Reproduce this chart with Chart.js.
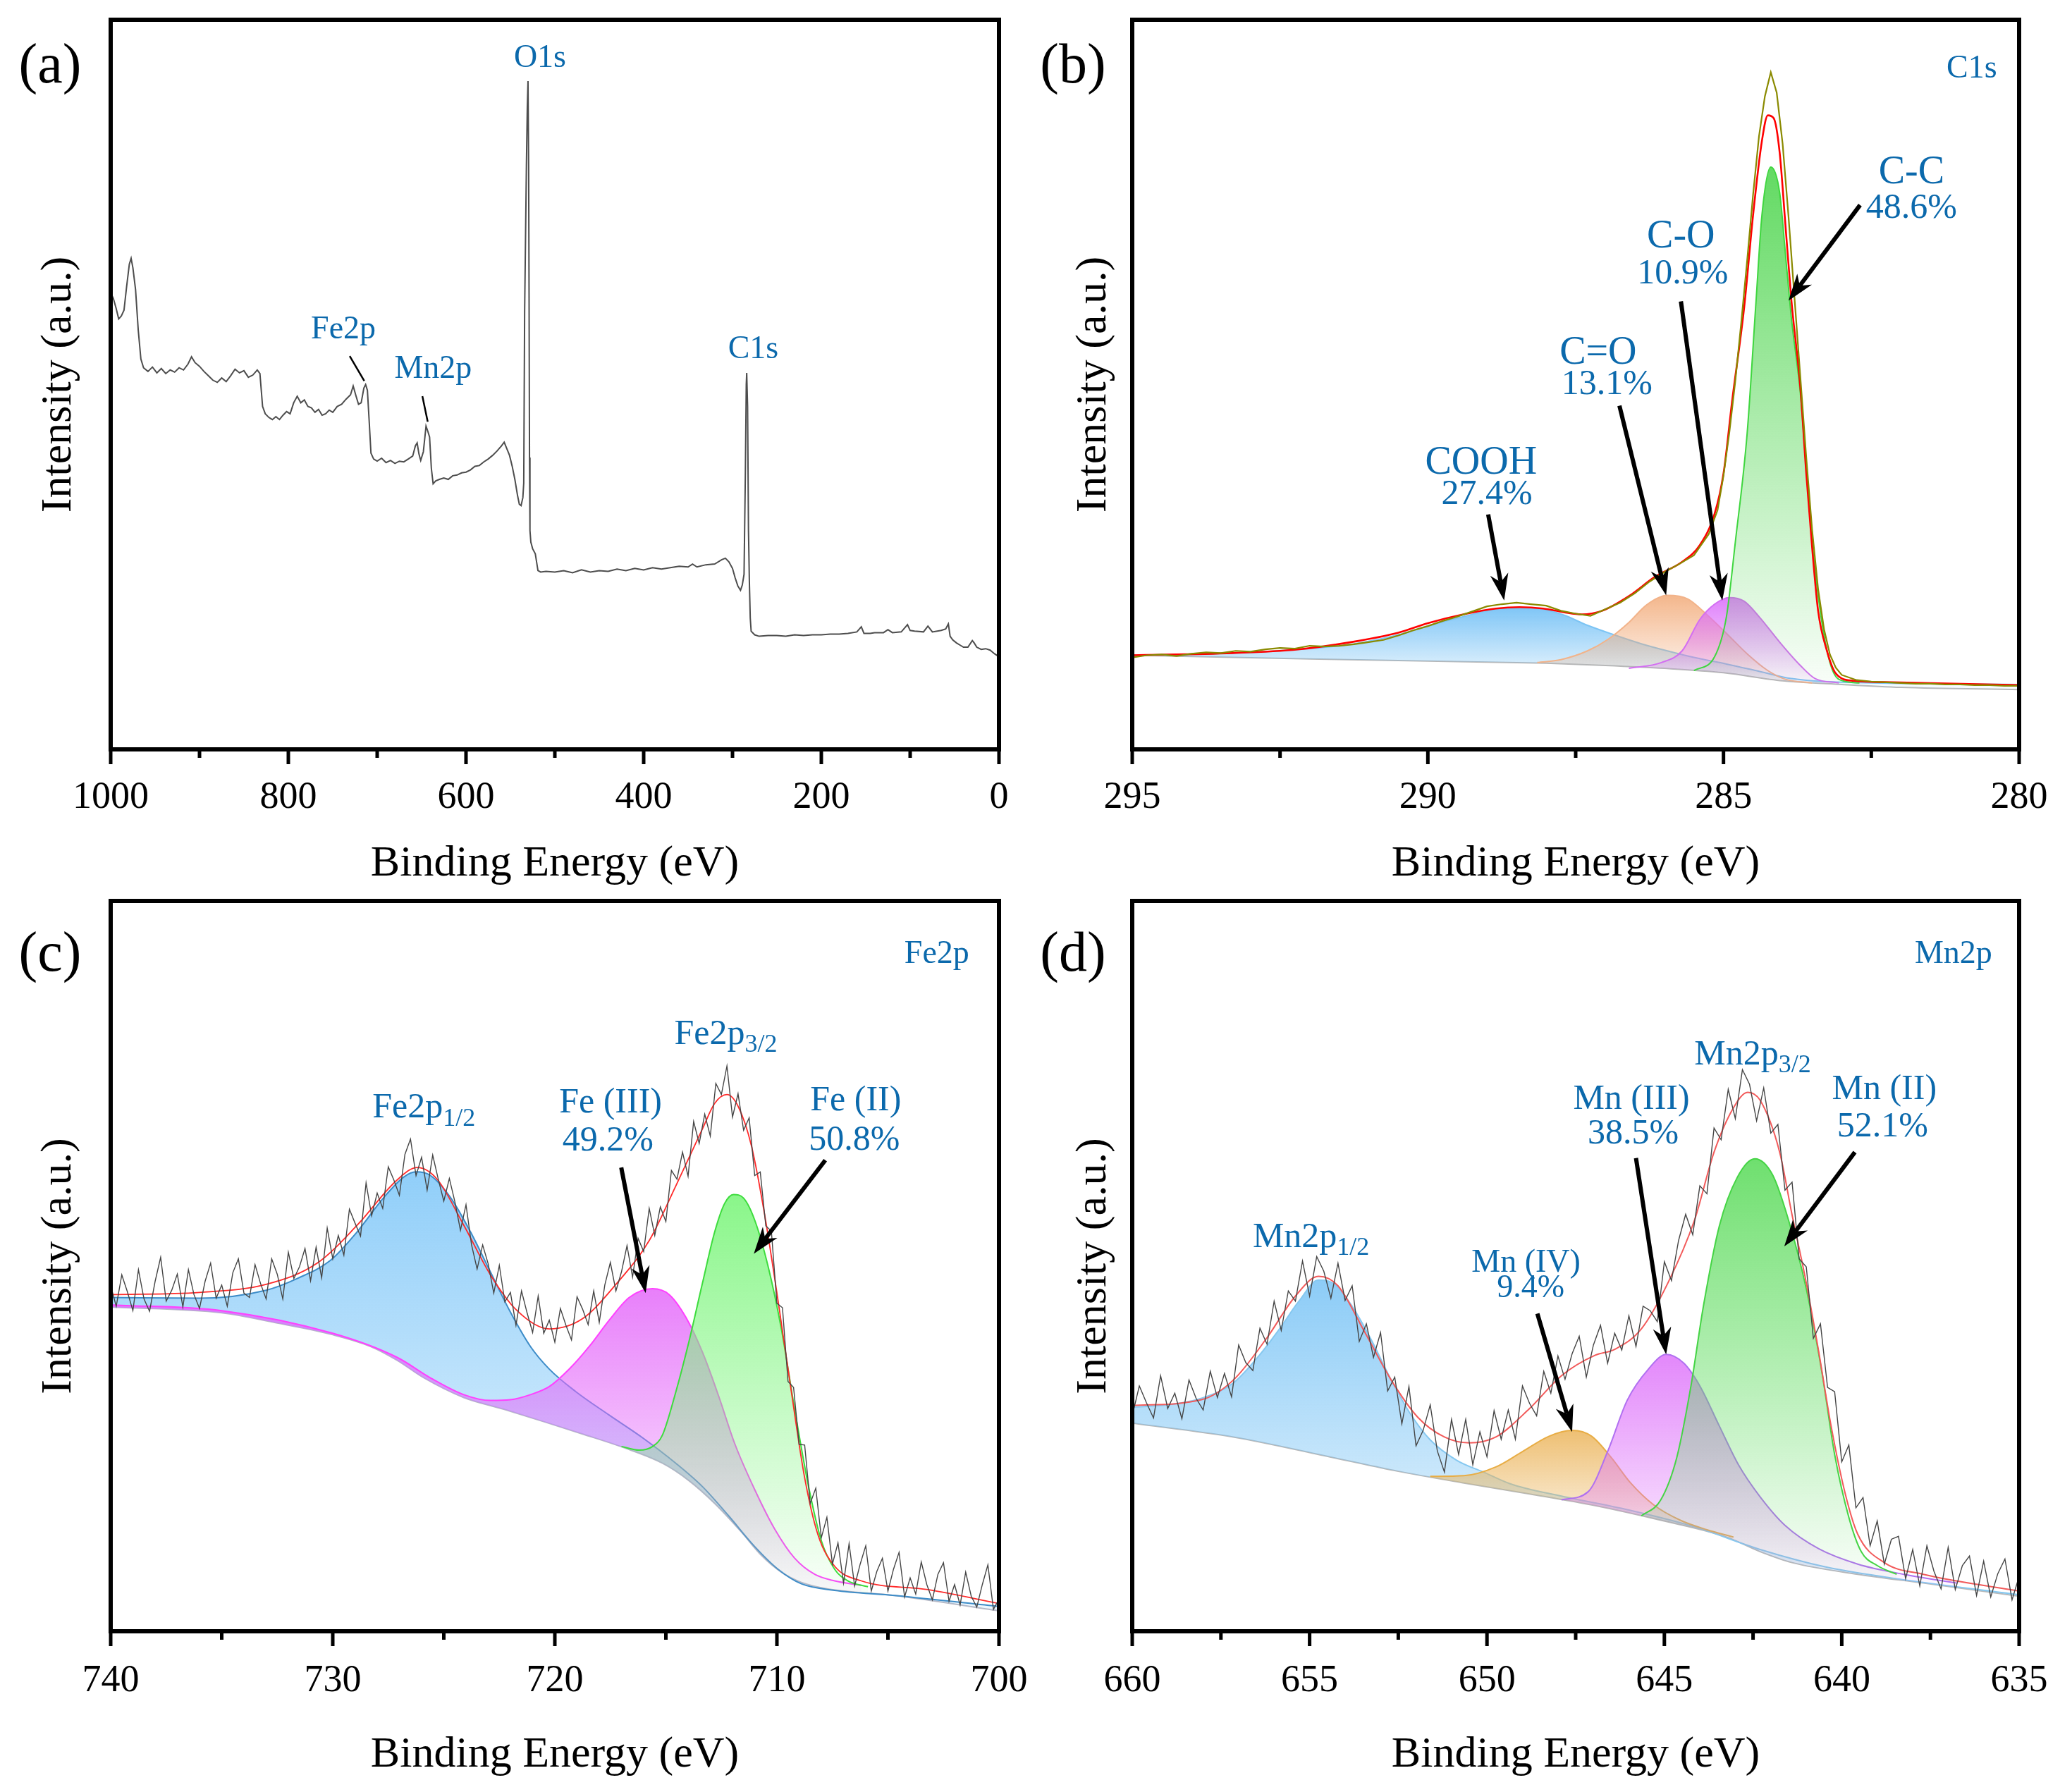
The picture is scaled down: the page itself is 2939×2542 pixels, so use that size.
<!DOCTYPE html>
<html>
<head>
<meta charset="utf-8">
<script src="https://cdn.jsdelivr.net/npm/chart.js@4.4.1/dist/chart.umd.min.js"></script>
<style>
  html, body { margin: 0; padding: 0; background: #fff; }
  body { width: 2939px; height: 2542px; position: relative; overflow: hidden; font-family: "Liberation Serif", serif; }
  canvas { position: absolute; }
  .tag { position: absolute; font-size: 80px; line-height: 1; color: #000; transform: translate(-50%, -50%); }
</style>
</head>
<body>
<canvas id="pa" width="1470" height="1270" style="left:0;top:0"></canvas>
<canvas id="pb" width="1469" height="1270" style="left:1470px;top:0"></canvas>
<canvas id="pc" width="1470" height="1272" style="left:0;top:1270px"></canvas>
<canvas id="pd" width="1469" height="1272" style="left:1470px;top:1270px"></canvas>
<div class="tag" style="left:71px;top:90px">(a)</div>
<div class="tag" style="left:1522px;top:90px">(b)</div>
<div class="tag" style="left:71px;top:1350px">(c)</div>
<div class="tag" style="left:1522px;top:1350px">(d)</div>
<script>
/* ---------- (a) survey spectrum ---------- */
const surveyEnergy = [1000,997,994,991,988,985,982,979,977,975,972,969,966,963,958,953,948,943,938,933,928,923,918,913,909,905,900,895,890,885,880,875,870,865,860,855,850,845,840,835,832,829,826,822,818,814,810,806,802,798,794,790,786,782,778,774,770,766,762,758,754,750,745,740,735,730,727,724,721,718,715,713,711,709,707,704,700,695,690,685,680,675,670,665,660,657,655,653,651,648,645,643,641,639,637,634,630,625,620,615,610,605,600,595,590,585,580,575,570,565,560,557,554,551,548,545,542,540,538,536,535,534,533,532,531,530.2,529.5,529,528.5,528,527,525,522,519,516,510,500,490,480,470,460,450,440,430,420,410,400,390,380,370,360,350,345,340,330,320,312,308,304,300,297,294,291,289,287,285.5,284.5,284,283,282,281,280,279,275,270,260,250,240,230,220,210,200,190,180,170,160,155,152,145,140,130,125,120,110,103,100,95,85,80,75,65,60,57,55,52,48,44,40,35,30,28,25,20,15,10,5,0];
const surveyIntensity = [62.6,61.8,60.5,59.0,59.4,60.2,63.5,66.5,67.3,66.0,63.0,57.5,53.5,52.3,51.8,52.4,51.6,52.2,51.5,52.0,51.7,52.3,52.0,52.8,53.8,53.0,52.5,51.8,51.2,50.6,50.3,50.9,50.4,51.2,52.1,51.6,51.9,51.0,51.3,52.0,51.5,47.0,46.0,45.5,45.2,45.6,45.2,45.8,46.3,46.0,47.5,48.4,47.5,47.9,47.0,46.8,46.2,46.6,45.8,46.0,46.5,46.2,47.0,47.3,48.0,48.6,49.8,48.5,47.3,47.5,49.5,50.0,49.2,45.0,40.6,39.8,39.5,39.9,39.3,39.6,39.2,39.5,39.4,39.8,40.2,41.6,42.0,40.5,39.6,40.8,44.3,43.6,42.8,38.5,36.4,36.8,37.0,37.2,37.0,37.5,37.6,37.9,38.0,38.3,38.8,38.9,39.4,39.8,40.3,40.9,41.6,42.1,41.2,40.3,38.8,37.0,34.8,33.6,33.4,34.5,36.5,60.0,70.0,80.0,88.0,91.6,80.0,62.0,40.0,30.0,28.4,27.5,26.8,24.5,24.3,24.4,24.3,24.5,24.2,24.6,24.3,24.5,24.4,24.7,24.5,24.8,24.6,24.9,24.7,24.9,25.1,25.0,25.4,25.0,25.3,25.4,26.0,26.2,25.7,24.8,23.5,22.4,21.8,22.5,24.0,38.0,50.0,51.6,47.0,30.0,23.0,18.0,16.2,15.7,15.5,15.6,15.6,15.5,15.7,15.6,15.7,15.7,15.8,15.8,15.9,16.1,16.8,15.9,15.9,16.0,16.0,16.4,16.0,16.1,17.1,16.3,16.2,16.1,16.9,16.1,16.3,16.5,17.2,15.5,15.0,14.6,14.3,14.0,14.0,14.9,14.6,14.0,13.7,13.8,13.6,13.1,12.7];
const surveyTicks = [1000, 800, 600, 400, 200, 0];
const surveyMinor = [900, 700, 500, 300, 100];

/* ---------- (b) C1s ---------- */
const c1sEnergy = [295,294.75,294.5,294.25,294,293.75,293.5,293.25,293,292.75,292.5,292.25,292,291.75,291.5,291.25,291,290.75,290.5,290.25,290,289.75,289.5,289.25,289,288.75,288.5,288.25,288,287.75,287.5,287.25,287,286.75,286.5,286.25,286,285.75,285.5,285.25,285.1,285,284.9,284.8,284.7,284.6,284.5,284.4,284.3,284.2,284.1,284,283.9,283.8,283.7,283.6,283.5,283.4,283.3,283.2,283.1,283,282.75,282.5,282.25,282,281.75,281.5,281.25,281,280.75,280.5,280.25,280];
const c1sRaw = [12.6,12.9,13.0,12.8,13.1,13.3,13.2,13.5,13.4,13.7,13.9,13.8,14.2,14.1,14.2,14.4,14.7,15.0,15.6,16.3,16.9,17.6,18.2,18.9,19.6,19.9,20.1,19.9,19.7,19.0,18.6,18.3,19.2,20.1,21.4,23.0,24.3,25.4,26.6,29.5,32.8,37.5,43.5,50.5,58.5,67,76,84,89.5,92.8,90,83,73,62,51,40,30,22,16.5,13,11.2,10.2,9.5,9.3,9.2,9.1,9.0,9.0,8.9,8.9,8.8,8.8,8.7,8.7];
const c1sFitE = [295,293.3,292.2,291.3,290.5,290,289.4,288.85,288.45,288.05,287.7,287.4,287.05,286.6,286.15,285.7,285.4,285.15,285,284.85,284.65,284.5,284.35,284.25,284.15,284.05,283.95,283.85,283.7,283.6,283.5,283.4,283.25,283.1,282.8,282.15,280];
const c1sFit = [12.9,13.2,13.7,14.7,16.0,17.3,18.5,19.3,19.5,19.3,18.8,18.5,19.0,21.0,23.7,25.7,28.0,32.3,37.8,48.0,60.6,73.2,83.4,86.9,86.5,81.8,71.6,61.4,49.6,37.8,27.6,19.0,13.5,10.4,9.4,9.2,8.8];
const ccE = [285.5,285.15,284.95,284.8,284.6,284.45,284.35,284.2,284.05,283.95,283.85,283.7,283.6,283.5,283.35,283.2,283.05,282.7];
const ccI = [10.8,12.7,18.2,28.4,43.3,61.4,73.2,79.8,76.3,67.7,59.0,48.8,38.6,28.4,18.2,11.9,9.6,9.1];
const coE = [286.6,286.05,285.7,285.4,285.15,284.9,284.65,284.4,284.05,283.7,283.45,283.05];
const coI = [11.1,11.9,13.5,17.8,19.9,20.8,20.3,18.2,14.7,11.5,9.7,9.1];
const c2oE = [288.15,287.75,287.3,286.95,286.6,286.3,285.95,285.6,285.3,284.95,284.6,284.25,283.95,283.5];
const c2oI = [11.9,12.3,13.5,15.1,17.4,19.8,21.1,20.6,18.6,15.9,13.1,10.8,9.6,9.1];
const coohE = [295,293.3,292.2,291.3,290.5,290,289.4,288.85,288.45,288.05,287.7,287.3,286.85,286.4,285.95,285.5,284.95,284.4,283.85,283.3,280];
const coohI = [12.9,13.2,13.7,14.4,15.7,16.9,18.2,19.2,19.4,19.2,18.4,17.0,15.7,14.5,13.5,12.6,11.7,10.7,9.7,9.3,8.9];
const c1sBgE = [295,292,290,288,287,286,285,284,283,282,280];
const c1sBg = [12.9,12.4,12.1,11.8,11.5,11.1,10.5,9.4,8.9,8.5,8.2];
const c1sTicks = [295, 290, 285, 280];
const c1sMinor = [292.5, 287.5, 282.5];

/* ---------- (c) Fe2p ---------- */
const fe2pEnergy = [740,739.75,739.5,739.25,739,738.75,738.5,738.25,738,737.75,
  737.5,737.25,737,736.75,736.5,736.25,736,735.75,735.5,735.25,
  735,734.75,734.5,734.25,734,733.75,733.5,733.25,733,732.75,
  732.5,732.25,732,731.75,731.5,731.25,731,730.75,730.5,730.25,
  730,729.75,729.5,729.25,729,728.75,728.5,728.25,728,727.75,
  727.5,727.25,727,726.75,726.5,726.25,726,725.75,725.5,725.25,
  725,724.75,724.5,724.25,724,723.75,723.5,723.25,723,722.75,
  722.5,722.25,722,721.75,721.5,721.25,721,720.75,720.5,720.25,
  720,719.75,719.5,719.25,719,718.75,718.5,718.25,718,717.75,
  717.5,717.25,717,716.75,716.5,716.25,716,715.75,715.5,715.25,
  715,714.75,714.5,714.25,714,713.75,713.5,713.25,713,712.75,
  712.5,712.25,712,711.75,711.5,711.25,711,710.75,710.5,710.25,
  710,709.75,709.5,709.25,709,708.75,708.5,708.25,708,707.75,
  707.5,707.25,707,706.75,706.5,706.25,706,705.75,705.5,705.25,
  705,704.75,704.5,704.25,704,703.75,703.5,703.25,703,702.75,
  702.5,702.25,702,701.75,701.5,701.25,701,700.75,700.5,700.25,
  700];
const fe2pRaw = [47.3,44.5,48.8,46.5,43.9,49.5,45.5,43.8,47.9,51.2,
  45.2,46.7,48.9,44.4,49.5,46.1,44.2,47.9,50.4,45.6,
  47.4,44.5,49.1,51.0,46.3,45.7,50.2,47.6,45.5,51.0,
  48.9,45.5,51.9,48.3,49.9,52.4,48.0,52.6,48.4,55.2,
  51.0,54.2,51.5,57.8,55.9,54.1,61.4,56.9,60.0,57.9,
  63.6,61.8,59.7,65.3,67.4,62.4,64.9,60.4,65.2,61.9,
  58.9,62.0,58.8,54.9,58.4,52.9,49.6,52.9,50.3,46.3,
  50.1,45.1,46.4,41.9,46.6,43.6,40.9,45.9,40.8,42.6,
  39.6,44.2,41.9,39.9,45.8,44.1,42.0,46.6,42.3,47.4,
  50.5,46.6,49.2,52.8,48.5,53.8,52.0,57.9,54.2,58.1,
  56.1,63.1,61.9,65.6,62.3,69.8,66.8,70.8,67.8,75.0,
  73.5,77.4,70.4,73.6,68.6,70.3,62.4,62.9,55.5,54.8,
  44.9,44.3,34.2,33.4,25.6,25.5,17.5,19.6,12.8,15.6,
  9.2,12.1,6.6,12.0,6.2,9.2,11.7,5.5,8.2,10.0,
  5.5,8.5,10.8,4.7,7.3,5.1,9.5,6.4,4.3,7.8,
  9.4,4.1,6.4,3.6,8.1,4.8,3.3,6.4,9.1,3.0,
  4.4];
const fe2pFitE = [740,736,733,730.7,728.9,727.1,726.2,725.3,724.1,722.9,721.7,720.25,718.75,717.25,715.75,714.55,713.35,712.8,712.25,711.75,711.15,710.55,709.95,709.35,708.75,708.15,707.4,706.2,703.2,700];
const fe2pFit = [46.1,46.4,47.5,50.4,55.6,61.8,63.5,61.9,55.6,48.8,43.9,41.4,42.8,47.5,53.5,61.0,68.8,72.3,73.5,71.9,66.5,57.0,45.3,32.8,21.0,13.2,8.9,6.9,5.7,3.8];
const fe12E = [740,736,733,731.6,730.1,728.9,727.7,726.8,726.25,725.6,724.7,723.8,722.9,722,721.1,720.25,719.05,717.55,716.05,714.55,713.35,712.2,711,709.95,708.9,707.4,704.7,700];
const fe12I = [45.7,45.6,46.7,48.3,50.8,54.7,59.4,62.2,62.9,62.4,59.4,54.7,49.2,43.7,39.0,35.9,32.8,29.6,26.5,23.0,19.8,15.9,11.6,8.5,6.5,5.6,4.9,3.4];
const fe3E = [740,735,730,727.1,725.6,724.1,722.9,722,721.1,720.25,719.35,718.45,717.55,716.65,715.6,714.85,714.1,713.35,712.6,711.9,711,710.1,709.2,708.3,707.4,706.2];
const fe3I = [44.7,43.9,40.8,37.5,34.7,32.4,31.6,31.7,32.4,33.5,35.9,39.0,42.6,45.7,46.9,46.1,43.0,38.2,32.0,25.7,19.4,14.0,10.0,7.8,6.9,6.3];
const fe2E = [717,716.2,715.6,715.15,714.55,713.95,713.35,712.8,712.35,711.95,711.5,711,710.4,709.8,709.2,708.6,708,707.4,706.8,705.9];
const fe2I = [25.3,24.8,25.3,26.9,32.8,39.8,47.7,54.7,58.6,59.8,59.3,56.3,50.0,41.4,30.4,20.2,12.4,8.5,6.9,6.1];
const fe2pBgE = [740,735,732.5,730,728.3,727.1,725.9,724.1,722.3,720.5,718.75,716.95,715.15,713.95,712.8,711.6,710.7,709.8,708.9,707.7,704.7,700];
const fe2pBg = [44.4,43.6,42.2,40.6,39.0,37.1,34.7,32.0,30.4,28.7,27.0,25.2,23.0,20.6,17.5,13.6,10.4,8.1,6.7,5.8,4.9,2.8];
const fe2pTicks = [740, 730, 720, 710, 700];
const fe2pMinor = [735, 725, 715, 705];

/* ---------- (d) Mn2p ---------- */
const mn2pEnergy = [660,659.8,659.6,659.4,659.2,659,658.8,658.6,658.4,658.2,
  658,657.8,657.6,657.4,657.2,657,656.8,656.6,656.4,656.2,
  656,655.8,655.6,655.4,655.2,655,654.8,654.6,654.4,654.2,
  654,653.8,653.6,653.4,653.2,653,652.8,652.6,652.4,652.2,
  652,651.8,651.6,651.4,651.2,651,650.8,650.6,650.4,650.2,
  650,649.8,649.6,649.4,649.2,649,648.8,648.6,648.4,648.2,
  648,647.8,647.6,647.4,647.2,647,646.8,646.6,646.4,646.2,
  646,645.8,645.6,645.4,645.2,645,644.8,644.6,644.4,644.2,
  644,643.8,643.6,643.4,643.2,643,642.8,642.6,642.4,642.2,
  642,641.8,641.6,641.4,641.2,641,640.8,640.6,640.4,640.2,
  640,639.8,639.6,639.4,639.2,639,638.8,638.6,638.4,638.2,
  638,637.8,637.6,637.4,637.2,637,636.8,636.6,636.4,636.2,
  636,635.8,635.6,635.4,635.2,635];
const mn2pRaw = [29.5,33.6,31.3,29.2,35.0,30.5,32.6,29.1,34.4,31.9,
  30.3,35.6,32.0,35.3,32.1,39.2,36.8,35.7,41.5,39.3,
  45.2,41.2,46.6,45.2,50.7,45.9,51.3,49.3,45.6,50.4,
  45.3,47.3,39.7,42.1,37.5,40.9,32.9,34.8,28.4,33.5,
  25.4,27.5,31.0,24.7,21.8,29.0,24.2,29.0,22.8,27.3,
  23.9,30.2,26.3,30.3,26.3,33.6,31.2,29.5,35.6,32.6,
  37.7,34.5,38.0,40.4,34.8,39.2,41.9,36.7,40.8,38.5,
  43.2,39.0,44.5,43.9,42.4,50.6,48.0,53.5,57.1,54.3,
  61.0,59.9,68.9,67.3,74.2,70.2,76.9,74.9,69.9,74.4,
  68.2,69.4,60.4,61.5,51.0,49.9,40.1,42.1,33.4,32.8,
  23.2,25.5,16.9,18.3,11.7,15.1,9.2,12.6,13.0,7.2,
  11.2,6.2,11.7,8.2,5.8,11.5,5.7,9.0,10.3,4.9,
  9.6,4.7,7.9,9.9,4.3,7.5];
const mn2pFitE = [660,658.05,657.15,656.2,655.4,654.75,654.2,653.45,652.7,651.95,651.2,650.5,649.75,648.8,647.9,646.95,646.4,645.65,644.9,644.15,643.6,643.05,642.65,642.3,641.75,641.4,641,640.65,640.3,639.9,639.55,638.8,637.7,635];
const mn2pFit = [30.9,31.7,34.4,40.2,45.9,48.6,47.3,41.0,34.4,29.3,26.6,25.8,26.6,30.5,35.0,37.8,38.6,41.4,47.7,56.3,65.6,71.7,73.8,72.7,65.6,57.0,47.7,38.3,28.1,18.8,13.3,9.4,7.8,5.5];
const mn12E = [660,659,658.05,657.15,656.4,655.85,655.3,654.75,654.35,653.8,653.25,652.7,652.15,651.6,650.85,650.1,649.35,647.9,646,644.15,642.3,640.45,638.6,635];
const mn12I = [30.7,31.0,31.9,34.0,37.9,41.4,45.2,48.1,47.7,44.5,39.8,34.4,29.7,26.2,23.4,21.8,20.2,18.5,16.6,14.3,11.2,8.8,7.3,5.0];
const mn4E = [651.6,650.65,649.75,649,648.25,647.6,647.05,646.5,645.95,645.3,644.55,643.8,643.05];
const mn4I = [21.2,21.3,22.5,24.6,26.7,27.5,26.7,23.8,20.3,17.3,15.2,13.9,12.9];
const mn3E = [647.9,647.15,646.6,646.05,645.45,644.95,644.45,644,643.45,642.9,642.3,641.6,640.65,639.55,638.25,636.75];
const mn3I = [18.0,19.1,24.6,31.6,35.9,37.9,36.7,33.6,28.1,22.7,18.4,14.5,11.3,9.2,7.8,6.6];
const mn2E = [645.65,645.1,644.65,644.25,643.9,643.45,642.95,642.45,641.95,641.5,641,640.55,640.2,639.8,639.45,639,638.45];
const mn2I = [15.8,18.0,23.8,33.6,44.5,55.5,62.1,64.7,62.5,56.3,46.9,35.2,24.2,15.6,10.9,9.0,7.8];
const mn2pBgE = [660,657.15,654.35,652.5,650.65,648.8,646.95,645.1,643.25,642.3,641.4,639.55,637.7,635];
const mn2pBg = [28.5,26.6,23.8,21.9,20.3,18.8,17.2,15.2,12.9,10.9,9.4,7.8,6.6,4.8];
const mn2pTicks = [660, 655, 650, 645, 640, 635];
const mn2pMinor = [657.5, 652.5, 647.5, 642.5, 637.5];

/* ---------- annotations (data coordinates) ---------- */
const extras = {
  pa: {
    major: surveyTicks, minor: surveyMinor,
    notes: [
      { x: 516.7, y: 94.7, text: 'O1s', size: 46 },
      { x: 738, y: 57.5, text: 'Fe2p', size: 46 },
      { x: 637, y: 52.1, text: 'Mn2p', size: 46 },
      { x: 276.6, y: 54.8, text: 'C1s', size: 46 }
    ],
    leaders: [[730.9, 53.9, 714.5, 50.5], [649.1, 48.4, 643.1, 44.9]]
  },
  pb: {
    major: c1sTicks, minor: c1sMinor,
    notes: [
      { x: 280.8, y: 93.2, text: 'C1s', size: 46 },
      { x: 281.82, y: 79.0, text: 'C-C', size: 56 },
      { x: 281.82, y: 74.1, text: '48.6%', size: 50 },
      { x: 285.72, y: 70.2, text: 'C-O', size: 56 },
      { x: 285.69, y: 65.1, text: '10.9%', size: 50 },
      { x: 287.12, y: 54.3, text: 'C=O', size: 56 },
      { x: 286.97, y: 50.0, text: '13.1%', size: 50 },
      { x: 289.10, y: 39.2, text: 'COOH', size: 56 },
      { x: 289.0, y: 34.9, text: '27.4%', size: 50 }
    ],
    arrows: [[282.69, 74.6, 283.90, 61.5], [285.72, 61.4, 285.02, 20.4],
             [286.76, 47.1, 285.97, 21.1], [288.98, 32.2, 288.71, 20.4]]
  },
  pc: {
    major: fe2pTicks, minor: fe2pMinor,
    notes: [
      { x: 702.8, y: 92.7, text: 'Fe2p', size: 46 },
      { x: 712.3, y: 81.7, text: 'Fe2p', sub: '3/2', size: 50 },
      { x: 725.9, y: 71.6, text: 'Fe2p', sub: '1/2', size: 50 },
      { x: 717.49, y: 72.3, text: 'Fe (III)', size: 50 },
      { x: 717.61, y: 67.1, text: '49.2%', size: 50 },
      { x: 706.45, y: 72.6, text: 'Fe (II)', size: 50 },
      { x: 706.51, y: 67.2, text: '50.8%', size: 50 }
    ],
    arrows: [[717.01, 63.5, 715.91, 46.3], [707.82, 64.5, 711.04, 51.7]]
  },
  pd: {
    major: mn2pTicks, minor: mn2pMinor,
    notes: [
      { x: 636.85, y: 92.7, text: 'Mn2p', size: 46 },
      { x: 642.51, y: 78.9, text: 'Mn2p', sub: '3/2', size: 50 },
      { x: 654.96, y: 53.9, text: 'Mn2p', sub: '1/2', size: 50 },
      { x: 645.93, y: 72.8, text: 'Mn (III)', size: 50 },
      { x: 645.88, y: 68.1, text: '38.5%', size: 50 },
      { x: 638.8, y: 74.1, text: 'Mn (II)', size: 50 },
      { x: 638.85, y: 69.0, text: '52.1%', size: 50 },
      { x: 648.9, y: 50.4, text: 'Mn (IV)', size: 46 },
      { x: 648.77, y: 46.9, text: '9.4%', size: 46 }
    ],
    arrows: [[645.80, 64.8, 644.95, 37.9], [639.63, 65.6, 641.62, 52.7], [648.58, 43.5, 647.6, 27.3]]
  }
};

const SERIF = '"Liberation Serif", "Times New Roman", serif';
const NOTE_BLUE = '#0b69ac';
Chart.defaults.font.family = SERIF;
Chart.defaults.color = '#000';

// vertical fade from the peak colour down to its baseline
function fade(rgb, a0, a1) {
  return (c) => {
    const chart = c.chart, ys = chart.scales && chart.scales.y;
    if (!chart.chartArea || !ys || !c.dataset) return `rgba(${rgb},${a0})`;
    const vals = c.dataset.data.map(p => p.y);
    const top = ys.getPixelForValue(Math.max(...vals));
    const bot = ys.getPixelForValue(Math.min(...vals));
    const g = chart.ctx.createLinearGradient(0, top, 0, bot + 1);
    g.addColorStop(0, `rgba(${rgb},${a0})`);
    g.addColorStop(1, `rgba(${rgb},${a1})`);
    return g;
  };
}

const curve = (E, I, color, width, extra) => Object.assign({
  data: E.map((x, i) => ({ x, y: I[i] })),
  borderColor: color, borderWidth: width, pointRadius: 0, fill: false,
  cubicInterpolationMode: 'monotone'
}, extra || {});
const raw = (E, I, color, width) => curve(E, I, color, width, { cubicInterpolationMode: 'default', tension: 0 });
const peak = (E, I, color, rgb, target, a0, a1) =>
  curve(E, I, color, 2, { fill: { target }, backgroundColor: fade(rgb, a0, a1) });

function drawArrow(ctx, x1, y1, x2, y2) {
  const dx = x2 - x1, dy = y2 - y1, L = Math.hypot(dx, dy);
  const ux = dx / L, uy = dy / L, hl = 38, hw = 13;
  const bx = x2 - ux * hl, by = y2 - uy * hl;
  const nx = x2 - ux * hl * 0.7, ny = y2 - uy * hl * 0.7;
  ctx.lineWidth = 6;
  ctx.beginPath(); ctx.moveTo(x1, y1); ctx.lineTo(nx, ny); ctx.stroke();
  ctx.beginPath();
  ctx.moveTo(x2, y2);
  ctx.lineTo(bx - uy * hw, by + ux * hw);
  ctx.lineTo(nx, ny);
  ctx.lineTo(bx + uy * hw, by - ux * hw);
  ctx.closePath(); ctx.fill();
}

function drawNote(ctx, xs, ys, n) {
  const px = xs.getPixelForValue(n.x), py = ys.getPixelForValue(n.y);
  const subSize = Math.round(n.size * 0.72);
  ctx.font = `${n.size}px ${SERIF}`;
  const w1 = ctx.measureText(n.text).width;
  let w2 = 0;
  if (n.sub) { ctx.font = `${subSize}px ${SERIF}`; w2 = ctx.measureText(n.sub).width; }
  const sx = px - (w1 + w2) / 2;
  ctx.fillStyle = NOTE_BLUE; ctx.textAlign = 'left'; ctx.textBaseline = 'middle';
  ctx.font = `${n.size}px ${SERIF}`;
  ctx.fillText(n.text, sx, py);
  if (n.sub) { ctx.font = `${subSize}px ${SERIF}`; ctx.fillText(n.sub, sx + w1, py + n.size * 0.3); }
}

const framePlugin = {
  id: 'frame',
  afterDraw(chart) {
    const ex = extras[chart.canvas.id];
    const { ctx, chartArea: a } = chart;
    const xs = chart.scales.x, ys = chart.scales.y;
    ctx.save();
    ctx.strokeStyle = '#000'; ctx.fillStyle = '#000'; ctx.lineCap = 'butt';
    ctx.lineWidth = 5;
    const tick = (v, len) => {
      const px = xs.getPixelForValue(v);
      ctx.beginPath(); ctx.moveTo(px, a.bottom); ctx.lineTo(px, a.bottom + len); ctx.stroke();
    };
    ex.major.forEach(v => tick(v, 21));
    ex.minor.forEach(v => tick(v, 12));
    ctx.lineWidth = 6;
    ctx.strokeRect(a.left, a.top, a.right - a.left, a.bottom - a.top);
    ctx.lineWidth = 2.5;
    (ex.leaders || []).forEach(([x1, y1, x2, y2]) => {
      ctx.beginPath();
      ctx.moveTo(xs.getPixelForValue(x1), ys.getPixelForValue(y1));
      ctx.lineTo(xs.getPixelForValue(x2), ys.getPixelForValue(y2));
      ctx.stroke();
    });
    (ex.arrows || []).forEach(([x1, y1, x2, y2]) =>
      drawArrow(ctx, xs.getPixelForValue(x1), ys.getPixelForValue(y1), xs.getPixelForValue(x2), ys.getPixelForValue(y2)));
    ex.notes.forEach(n => drawNote(ctx, xs, ys, n));
    ctx.restore();
  }
};

function makePanel(id, p, datasets) {
  return new Chart(document.getElementById(id), {
    type: 'line',
    data: { datasets },
    options: {
      responsive: false, animation: false, devicePixelRatio: 1,
      layout: { padding: { top: p.padTop, right: p.padRight, left: 0, bottom: 0 } },
      plugins: { legend: { display: false }, tooltip: { enabled: false } },
      scales: {
        x: {
          type: 'linear', reverse: true, min: p.xMin, max: p.xMax,
          // fixed box; no extra side padding for the end labels
          afterFit: s => { s.height = p.xHeight; s.paddingLeft = 0; s.paddingRight = 0; },
          afterBuildTicks: s => { s.ticks = extras[id].major.map(v => ({ value: v })); },
          grid: { display: false, drawTicks: false, tickLength: 0 },
          border: { display: false },
          ticks: { padding: p.tickPad, color: '#000', autoSkip: false, maxRotation: 0, minRotation: 0,
                   font: { family: SERIF, size: 54 }, callback: v => String(v) },
          title: { display: true, text: 'Binding Energy (eV)', color: '#000',
                   font: { family: SERIF, size: 62 }, padding: { top: 0, bottom: p.xTitlePad } }
        },
        y: {
          min: 0, max: 100,
          afterFit: s => { s.width = p.yWidth; s.paddingTop = 0; s.paddingBottom = 0; },
          grid: { display: false, drawTicks: false },
          border: { display: false },
          ticks: { display: false },
          title: { display: true, text: 'Intensity (a.u.)', color: '#000',
                   font: { family: SERIF, size: 62 }, padding: { top: p.yTitlePad, bottom: 0 } }
        }
      }
    },
    plugins: [framePlugin]
  });
}

makePanel('pa', { xMin: 0, xMax: 1000, padTop: 28, padRight: 53, yWidth: 157, xHeight: 207, tickPad: 36, xTitlePad: 7, yTitlePad: 47 }, [
  raw(surveyEnergy, surveyIntensity, '#4d4d4d', 2)
]);

makePanel('pb', { xMin: 280, xMax: 295, padTop: 28, padRight: 75, yWidth: 136, xHeight: 207, tickPad: 36, xTitlePad: 7, yTitlePad: 45 }, [
  raw(c1sEnergy, c1sRaw, '#8a8a00', 2.2),
  curve(c1sFitE, c1sFit, '#ff0000', 2.6),
  peak(ccE, ccI, '#3fd63f', '85,215,85', 6, 0.92, 0.04),
  peak(coE, coI, '#d36ef2', '218,105,250', 6, 0.85, 0.05),
  peak(c2oE, c2oI, '#f2b38a', '242,170,120', 6, 0.85, 0.05),
  peak(coohE, coohI, '#7cc4f4', '110,190,245', 6, 0.88, 0.06),
  curve(c1sBgE, c1sBg, '#b8b8b8', 2)
]);

makePanel('pc', { xMin: 700, xMax: 740, padTop: 8, padRight: 53, yWidth: 157, xHeight: 228, tickPad: 38, xTitlePad: 15, yTitlePad: 47 }, [
  raw(fe2pEnergy, fe2pRaw, '#454545', 1.4),
  curve(fe2pFitE, fe2pFit, '#ff2a2a', 1.8),
  peak(fe2E, fe2I, '#3ddc3d', '125,245,125', 5, 0.9, 0.06),
  peak(fe3E, fe3I, '#ff40ff', '228,105,250', 5, 0.85, 0.06),
  peak(fe12E, fe12I, '#3d8cc8', '125,198,248', 5, 0.85, 0.14),
  curve(fe2pBgE, fe2pBg, '#b8b8c4', 2)
]);

makePanel('pd', { xMin: 635, xMax: 660, padTop: 8, padRight: 75, yWidth: 136, xHeight: 228, tickPad: 38, xTitlePad: 15, yTitlePad: 45 }, [
  raw(mn2pEnergy, mn2pRaw, '#454545', 1.4),
  curve(mn2pFitE, mn2pFit, '#f25a5a', 2),
  peak(mn2E, mn2I, '#45d445', '95,220,95', 6, 0.9, 0.05),
  peak(mn3E, mn3I, '#b070f0', '222,115,250', 6, 0.85, 0.05),
  peak(mn4E, mn4I, '#e8ad45', '235,180,90', 6, 0.85, 0.1),
  peak(mn12E, mn12I, '#86c8f0', '120,195,245', 6, 0.85, 0.12),
  curve(mn2pBgE, mn2pBg, '#b8b8b8', 2)
]);
</script>
</body>
</html>
